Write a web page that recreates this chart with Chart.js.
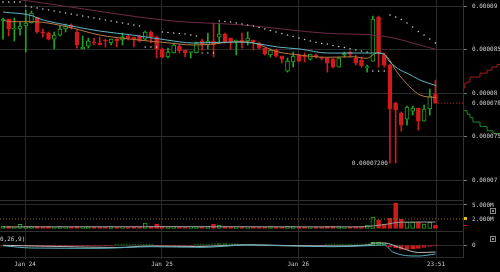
<!DOCTYPE html>
<html><head><meta charset="utf-8">
<script src="https://cdn.jsdelivr.net/npm/chart.js@4"></script>
<style>
html,body{margin:0;padding:0;background:#000;width:500px;height:272px;overflow:hidden}
canvas{position:absolute;display:block}
</style></head><body>
<canvas id="depth" width="37" height="200" style="left:463px;top:0"></canvas>
<canvas id="price" width="500" height="200" style="left:0;top:0"></canvas>
<canvas id="vol" width="500" height="31" style="left:0;top:200px"></canvas>
<canvas id="macd" width="500" height="41" style="left:0;top:231px"></canvas>
<script>
// ---- data (prices in satoshi = 1e-8 BTC, hourly candles) ----
const openSat  = [8828,8851,8736,8736,8771,8805,8874,8702,8690,8621, 8667,8736,8782,8702,8507,8541,8587,8576,8610,8576, 8621,8610,8656,8644,8656,8621,8702,8644,8507,8415, 8461,8541,8495,8467,8461,8599,8553,8599,8644,8679, 8633,8599,8610,8599,8610,8576,8518,8438,8495,8426, 8254,8358,8438,8426,8392,8438,8404,8404,8392,8300, 8438,8472,8404,8381,8294,8369,8874,8438,8323,7887, 7773,7704,7796,7830,7681,7819,7991];
const highSat  = [8862,8851,8862,8816,8954,8943,8874,8736,8702,8702, 8771,8794,8794,8725,8656,8633,8633,8644,8621,8621, 8633,8690,8667,8644,8667,8713,8713,8656,8518,8518, 8576,8564,8495,8472,8587,8621,8690,8805,8805,8690, 8633,8610,8690,8702,8610,8587,8518,8507,8507,8426, 8404,8472,8449,8461,8449,8449,8415,8404,8404,8415, 8472,8484,8438,8415,8323,8885,8885,8461,8335,7899, 7785,7853,7853,7830,7864,8048,8151];
const lowSat   = [8621,8656,8599,8667,8472,8805,8690,8644,8610,8507, 8656,8702,8736,8518,8507,8518,8553,8553,8530,8553, 8530,8553,8610,8530,8587,8610,8576,8404,8404,8404, 8461,8461,8415,8404,8461,8495,8507,8415,8587,8576, 8507,8438,8518,8553,8495,8507,8438,8415,8415,8346, 8243,8300,8358,8358,8381,8404,8381,8243,8289,8300, 8415,8415,8323,8300,8243,8369,8300,8300,7200,7200, 7566,7635,7750,7578,7681,7750,7887];
const closeSat = [8851,8736,8748,8771,8805,8920,8702,8690,8621,8667, 8736,8771,8759,8553,8530,8599,8576,8553,8599,8621, 8599,8644,8633,8621,8599,8702,8644,8507,8415,8472, 8553,8484,8461,8472,8576,8553,8599,8553,8679,8587, 8599,8610,8576,8633,8587,8518,8449,8495,8426,8392, 8369,8426,8369,8415,8449,8415,8398,8346,8300,8404, 8461,8449,8346,8312,8300,8851,8461,8323,7819,7807, 7635,7842,7830,7681,7819,7968,7887];
const volumeM  = [0.4,0.45,0.3,0.85,0.5,0.4,0.45,0.35,0.4,0.3, 0.35,0.3,0.3,0.4,0.3,0.35,0.3,0.3,0.3,0.35, 0.3,0.3,0.25,0.3,0.3,1.1,0.5,0.9,0.45,0.35, 0.4,0.3,0.3,0.3,0.35,0.3,0.4,0.9,0.7,0.4, 0.3,0.3,0.35,0.3,0.3,0.3,0.3,0.35,0.3,0.3, 0.4,0.45,0.3,0.3,0.3,0.3,0.25,0.4,0.45,0.5, 0.3,0.3,0.35,0.3,0.7,2.4,1.8,0.9,2.2,5.4, 2.0,1.35,1.35,1.35,0.9,1.35,0.7];
const macdHist = [-5,-5,-5,-5, -20,-25,-25,-30,-30,-25,-20,-20,-15, -15,-15,-10,-10,-10,-5,-5, 10,15,15,20,20,15,15, -10,-20,-25,-25,-20,-15,-10, 10,15,20,25,30,30,25,25,20,15, 10,-10,-15,-20,-20,-25,-25,-20,-20,-15,-15,-10, -5,5,5, 10,15,15,20,20, 25,55,60,45,-40,-60,-90,-90,-80,-70,-50,-30,-20];
const sarSat   = [9045,9045,9045,9045,9000,8989,8977,8966,8954,8943, 8931,8920,8908,8897,8885,8874,8862,8851,8839,8828, 8816,8805,8794,8782,8771,8530,8530,8530,8702,8696, 8690,8684,8679,8667,8656,8461,8461,8461,8828,8822, 8816,8805,8794,8782,8771,8753,8736,8719,8702,8684, 8667,8650,8633,8616,8599,8585,8570,8564,8547,8536, 8524,8510,8495,8484,8472,8254,8254,8254,8897,8874, 8845,8805,8759,8708,8667,8621,8576];
// moving averages read at [candle index, value]
const maTeal   = [[0,8931],[5.3,8885],[6,8862],[11.2,8782],[17,8713],[22.8,8667],[28.8,8610],[33.4,8576],[41,8587],[44,8576],[48.2,8530],[52.2,8507],[57,8461],[61.5,8461],[65,8461],[66.8,8455],[68,8358],[69.8,8266],[71,8231],[73.3,8151],[76.1,8088]];
const maOrange = [[0,8839],[1.2,8820],[5.3,8820],[11.2,8763],[17,8667],[22.8,8618],[28.8,8579],[33.4,8553],[36.4,8561],[41.1,8591],[43.9,8579],[48.2,8476],[52.2,8438],[56.9,8412],[61.5,8418],[64,8400],[65.7,8464],[67.5,8418],[69.2,8246],[71.5,8074],[73.3,7979],[76.1,7950]];
const maSlow   = [[0,9100],[9.5,9011],[29.4,8831],[42.2,8782],[57,8687],[66.3,8659],[76.1,8503]];
const volMA    = [[0,0.3],[30,0.35],[62,0.3],[65,0.5],[67,0.8],[70,1.3],[76,1.35]];
const macdLine = [[0,-6],[10,-30],[20,-50],[26,-20],[34,-30],[43,4],[50,-10],[58,-20],[64,0],[65.5,40],[67,40],[70,-60],[73,-150],[76,-140]];
const signalLine = [[0,-14],[5,-60],[17,-66],[26,-34],[35,-46],[43,0],[49,-14],[58,-34],[64,-14],[67,0],[68.5,-140],[73,-220],[76,-180]];
// order book depth (cumulative %, price sat)
const askCum = [0,5,11,19,46,65,78,92,100];
const askSat = [7980,8060,8115,8130,8185,8230,8265,8300,8330];
const bidCum = [0,11,19,27,46,65,81,100];
const bidSat = [7887,7800,7760,7720,7670,7620,7570,7540];
// ticks
const priceTickValues = [7000,7500,8000,8500,9000];
const priceTickLabels = ['0.00007','0.000075','0.00008','0.000085','0.00009'];
const volTickValues = [5,2];
const volTickLabels = ['5.000M','2.000M'];
const macdTickValues = [0];
const macdTickLabels = ['0'];
const xTickHours = [3.87,27.94,51.9,76.1];
const xTickLabels = ['Jan 24','Jan 25','Jan 26','23:51'];
const macdTitle = '0,26,9)';

// ---- layout / style ----
const N = closeSat.length;
const up = closeSat.map((c,i)=>c>=openSat[i]);
const GREEN='#23a523', RED='#cf1b1b', TXT='#cfcfcf', GRID='#2b2b2b';
const X_MIN=-0.527, X_MAX=80.84, Y_MIN=6776.5, Y_MAX=9068.8;
const FONT={family:'DejaVu Sans Mono', size:6};
const pts = arr => arr.map(p=>({x:p[0],y:p[1]}));

const common = {
  responsive:false, animation:false, devicePixelRatio:1, events:[],
  layout:{padding:0, autoPadding:false},
  plugins:{legend:{display:false}, tooltip:{enabled:false}}
};
function xScale(show){
  return {type:'linear', min:X_MIN, max:X_MAX, display:true, offset:false,
    afterBuildTicks(s){ s.ticks = xTickHours.map(v=>({value:v})); },
    afterFit(s){ s.height = show?15:0; s.paddingLeft=0; s.paddingRight=0; },
    grid:{color:GRID, offset:false, drawTicks:show, tickLength:2, tickColor:GRID},
    border:{display:show, color:GRID},
    ticks:{display:show, autoSkip:false, maxRotation:0, callback:(v,i)=>xTickLabels[i], font:FONT, color:TXT, padding:2}
  };
}
function yScale(min,max,vals,labels,gridColor,tickColor,tickWidth){
  return {type:'linear', position:'right', min, max,
    afterBuildTicks(s){ s.ticks = vals.map(v=>({value:v})); },
    afterFit(s){ s.width=37; s.paddingTop=0; s.paddingBottom=0; },
    grid:{color:gridColor||GRID, tickLength:4, tickColor:tickColor||'#777', tickWidth:tickWidth||1},
    border:{display:true, color:'#333'},
    ticks:{callback:(v,i)=>labels[i], font:FONT, color:TXT, padding:5, crossAlign:'near'}
  };
}
const lineDs = (data,color,order)=>({type:'line', data:pts(data), borderColor:color, borderWidth:1, pointRadius:0, cubicInterpolationMode:'monotone', order});

// ---- depth (behind axis labels) ----
new Chart(document.getElementById('depth'), {
  type:'line',
  data:{datasets:[
    {data:askCum.map((c,i)=>({x:c,y:askSat[i]})), borderColor:'#a81d1d', borderWidth:1, pointRadius:0, stepped:'after'},
    {data:bidCum.map((c,i)=>({x:c,y:bidSat[i]})), borderColor:'#1f8a1f', borderWidth:1, pointRadius:0, stepped:'after'}
  ]},
  options:{...common, scales:{x:{type:'linear',min:0,max:100,display:false}, y:{type:'linear',min:Y_MIN,max:Y_MAX,display:false}}}
});

// ---- price panel ----
const priceExtras = {id:'priceExtras', afterDatasetsDraw(chart){
  const {ctx, chartArea:a, scales:{x,y}} = chart;
  let mi=0; lowSat.forEach((v,i)=>{ if(v<lowSat[mi]) mi=i; });
  ctx.save();
  ctx.font='6px "DejaVu Sans Mono"'; ctx.fillStyle=TXT; ctx.textBaseline='middle';
  ctx.textAlign='right';
  ctx.fillText((lowSat[mi]*1e-8).toFixed(8), x.getPixelForValue(mi)-2, y.getPixelForValue(lowSat[mi]));
  ctx.textAlign='left';
  const last = closeSat[N-1];
  ctx.fillText((last*1e-8).toFixed(8), a.right+9, y.getPixelForValue(last));
  ctx.restore();
}};
new Chart(document.getElementById('price'), {
  type:'bar',
  data:{datasets:[
    {type:'line', data:[{x:N-1+0.45,y:closeSat[N-1]},{x:X_MAX,y:closeSat[N-1]}], borderColor:RED, borderWidth:1, borderDash:[1,2], pointRadius:0, order:0},
    {type:'line', data:sarSat.map((v,i)=>({x:i,y:v})), showLine:false, pointRadius:0.8, pointBorderWidth:0, pointBackgroundColor:'#c8c8c8', order:1},
    lineDs(maSlow,'#6e2a48',4),
    lineDs(maOrange,'#b97a3e',3),
    lineDs(maTeal,'#62b3c2',2),
    {data:openSat.map((o,i)=>({x:i,y:[o,closeSat[i]]})), grouped:false, barThickness:4, minBarLength:1, borderSkipped:false, borderWidth:1,
      backgroundColor:c=>up[c.dataIndex]?'#000':RED, borderColor:c=>up[c.dataIndex]?GREEN:RED, order:5},
    {data:lowSat.map((l,i)=>({x:i,y:[l,highSat[i]]})), grouped:false, barThickness:1, borderWidth:0,
      backgroundColor:c=>up[c.dataIndex]?GREEN:RED, order:6}
  ]},
  options:{...common, scales:{x:xScale(false), y:yScale(Y_MIN,Y_MAX,priceTickValues,priceTickLabels)}},
  plugins:[priceExtras]
});

// ---- volume panel ----
const volExtras = {id:'volExtras', afterDraw(chart){
  const {ctx, chartArea:a, scales:{y}} = chart;
  ctx.save();
  ctx.strokeStyle='#303030'; ctx.lineWidth=1;
  ctx.beginPath(); ctx.moveTo(0,0.5); ctx.lineTo(a.right,0.5); ctx.stroke();
  const ly=Math.round(y.getPixelForValue(volumeM[N-1]))+0.5;
  ctx.strokeStyle=RED; ctx.beginPath(); ctx.moveTo(a.right,ly); ctx.lineTo(a.right+4,ly); ctx.stroke();
  ctx.strokeStyle='#8a8a8a'; ctx.strokeRect(490.5,8.5,5,5); ctx.fillStyle='#8a8a8a'; ctx.fillRect(492,10,2,2);
  ctx.restore();
}};
new Chart(document.getElementById('vol'), {
  type:'bar',
  data:{datasets:[
    {type:'line', data:[{x:X_MIN,y:volTickValues[1]},{x:X_MAX,y:volTickValues[1]}], borderColor:'#8a6a1e', borderWidth:1, borderDash:[1,2], pointRadius:0, order:2},
    lineDs(volMA,'#9a9a9a',1),
    {data:volumeM.map((v,i)=>({x:i,y:v})), grouped:false, barThickness:4, minBarLength:1, borderSkipped:false, borderWidth:1,
      backgroundColor:c=>up[c.dataIndex]?'#000':RED, borderColor:c=>up[c.dataIndex]?GREEN:RED, order:3}
  ]},
  options:{...common, scales:{x:xScale(false),
    y:yScale(-0.58,6.07,volTickValues,volTickLabels,
      c=>c.tick && c.tick.value===2?'rgba(0,0,0,0)':GRID,
      c=>c.tick && c.tick.value===2?'#e0c020':'#777',
      c=>c.tick && c.tick.value===2?3:1)}},
  plugins:[volExtras]
});

// ---- MACD panel ----
const macdExtras = {id:'macdExtras', afterDraw(chart){
  const {ctx, chartArea:a} = chart;
  ctx.save();
  ctx.strokeStyle='#303030'; ctx.lineWidth=1;
  ctx.beginPath(); ctx.moveTo(0,0.5); ctx.lineTo(a.right,0.5); ctx.stroke();
  ctx.font='6px "DejaVu Sans Mono"'; ctx.fillStyle=TXT; ctx.textBaseline='middle'; ctx.textAlign='left';
  ctx.fillText(macdTitle, 0, 8);
  ctx.strokeStyle='#8a8a8a'; ctx.strokeRect(490.5,5.5,5,5); ctx.fillStyle='#8a8a8a'; ctx.fillRect(492,7,2,2);
  ctx.restore();
}};
new Chart(document.getElementById('macd'), {
  type:'bar',
  data:{datasets:[
    lineDs(signalLine,'#5fb0be',1),
    lineDs(macdLine,'#b8b8b8',2),
    {data:macdHist.map((v,i)=>({x:i,y:v})), grouped:false, barThickness:4, minBarLength:1, borderSkipped:false, borderWidth:1,
      backgroundColor:c=>macdHist[c.dataIndex]>=0?'#000':RED, borderColor:c=>macdHist[c.dataIndex]>=0?'#22c022':RED, order:3}
  ]},
  options:{...common, scales:{x:xScale(true), y:yScale(-240,280,macdTickValues,macdTickLabels)}},
  plugins:[macdExtras]
});
</script></body></html>
